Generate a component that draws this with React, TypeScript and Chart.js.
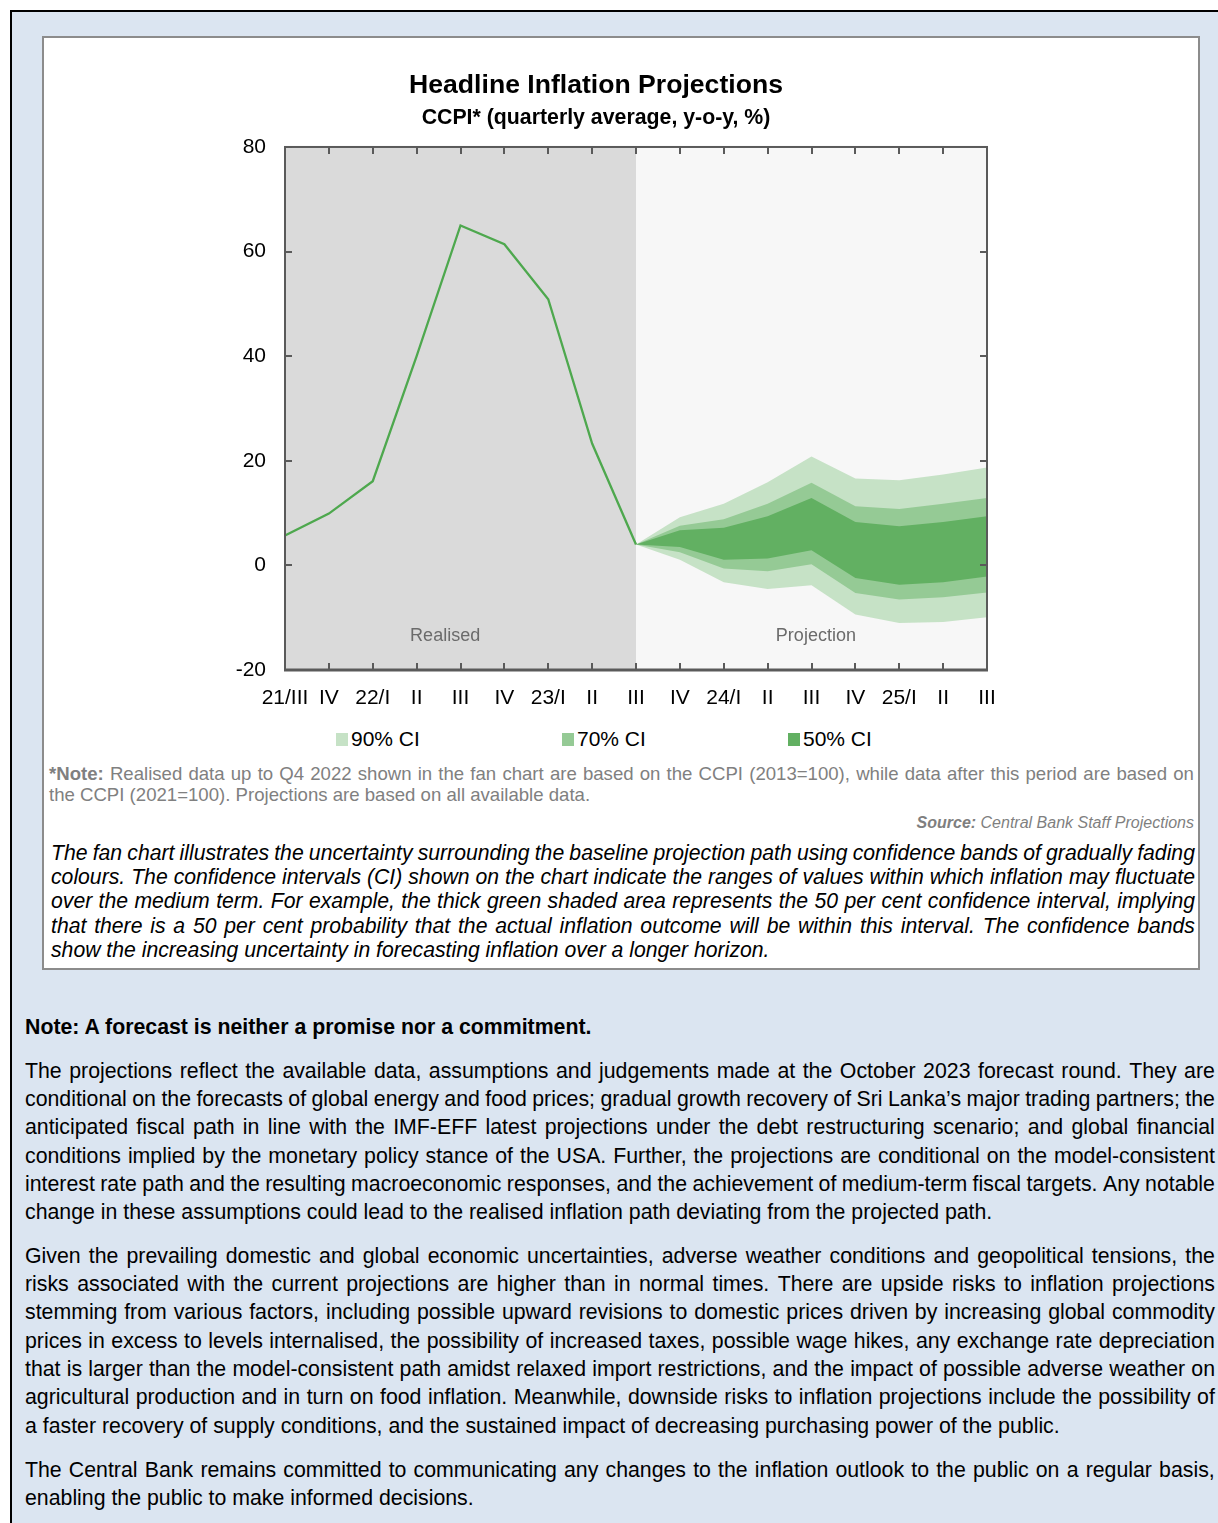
import React, { useEffect, useRef } from 'react';
import { Chart, registerables } from 'chart.js';

Chart.register(...registerables);

// ---------- data ----------
const categories = ['21/III', 'IV', '22/I', 'II', 'III', 'IV', '23/I', 'II', 'III', 'IV', '24/I', 'II', 'III', 'IV', '25/I', 'II', 'III'];
const realised = [5.7, 9.9, 16.1, 40.0, 65.0, 61.4, 50.9, 23.3, 4.0, null, null, null, null, null, null, null, null];
const ci90Upper = [null, null, null, null, null, null, null, null, 4.0, 9.2, 11.8, 15.9, 20.8, 16.6, 16.3, 17.4, 18.7];
const ci70Upper = [null, null, null, null, null, null, null, null, 4.0, 7.6, 8.8, 11.8, 15.8, 11.3, 10.8, 11.8, 12.9];
const ci50Upper = [null, null, null, null, null, null, null, null, 4.0, 6.7, 7.2, 9.4, 12.9, 8.3, 7.5, 8.3, 9.4];
const ci50Lower = [null, null, null, null, null, null, null, null, 4.0, 3.5, 1.1, 1.3, 2.9, -2.4, -3.7, -3.2, -2.1];
const ci70Lower = [null, null, null, null, null, null, null, null, 4.0, 2.5, -0.6, -1.1, 0.2, -5.3, -6.5, -6.1, -5.2];
const ci90Lower = [null, null, null, null, null, null, null, null, 4.0, 1.1, -3.2, -4.5, -3.8, -9.4, -11.0, -10.8, -9.9];
const yTicks = [-20, 0, 20, 40, 60, 80];
const splitIndex = 8; // last realised quarter (23/III)
const legendLabels = ['90% CI', '70% CI', '50% CI'];

const noteLines = [
  'Realised data up to Q4 2022 shown in the fan chart are based on the CCPI (2013=100), while data after this period are based on',
  'the CCPI (2021=100). Projections are based on all available data.',
];
const fanLines = [
  'The fan chart illustrates the uncertainty surrounding the baseline projection path using confidence bands of gradually fading',
  'colours. The confidence intervals (CI) shown on the chart indicate the ranges of values within which inflation may fluctuate',
  'over the medium term. For example, the thick green shaded area represents the 50 per cent confidence interval, implying',
  'that there is a 50 per cent probability that the actual inflation outcome will be within this interval. The confidence bands',
  'show the increasing uncertainty in forecasting inflation over a longer horizon.',
];
const para1 = [
  'The projections reflect the available data, assumptions and judgements made at the October 2023 forecast round. They are',
  'conditional on the forecasts of global energy and food prices; gradual growth recovery of Sri Lanka’s major trading partners; the',
  'anticipated fiscal path in line with the IMF-EFF latest projections under the debt restructuring scenario; and global financial',
  'conditions implied by the monetary policy stance of the USA. Further, the projections are conditional on the model-consistent',
  'interest rate path and the resulting macroeconomic responses, and the achievement of medium-term fiscal targets. Any notable',
  'change in these assumptions could lead to the realised inflation path deviating from the projected path.',
];
const para2 = [
  'Given the prevailing domestic and global economic uncertainties, adverse weather conditions and geopolitical tensions, the',
  'risks associated with the current projections are higher than in normal times. There are upside risks to inflation projections',
  'stemming from various factors, including possible upward revisions to domestic prices driven by increasing global commodity',
  'prices in excess to levels internalised, the possibility of increased taxes, possible wage hikes, any exchange rate depreciation',
  'that is larger than the model-consistent path amidst relaxed import restrictions, and the impact of possible adverse weather on',
  'agricultural production and in turn on food inflation. Meanwhile, downside risks to inflation projections include the possibility of',
  'a faster recovery of supply conditions, and the sustained impact of decreasing purchasing power of the public.',
];
const para3 = [
  'The Central Bank remains committed to communicating any changes to the inflation outlook to the public on a regular basis,',
  'enabling the public to make informed decisions.',
];

// ---------- styles ----------
const FONT = '"Liberation Sans", Arial, Helvetica, sans-serif';
const LINE = '#4ea84e';
const C90 = '#c6e2c6';
const C70 = '#95ca95';
const C50 = '#62b062';
const FRAME = '#5a5a5a';

const framePlugin = {
  id: 'framePlugin',
  beforeDraw(chart: any) {
    const { ctx, chartArea: a, scales } = chart;
    const x = scales.x;
    const split = x.getPixelForValue(splitIndex);
    ctx.save();
    ctx.fillStyle = '#dadada';
    ctx.fillRect(a.left, a.top, split - a.left, a.bottom - a.top);
    ctx.fillStyle = '#f7f7f7';
    ctx.fillRect(split, a.top, a.right - split, a.bottom - a.top);
    ctx.fillStyle = '#6b6b6b';
    ctx.font = `18px ${FONT}`;
    ctx.textAlign = 'center';
    ctx.textBaseline = 'middle';
    const yPix = scales.y.getPixelForValue(-13.6);
    ctx.fillText('Realised', x.getPixelForValue(3.65), yPix);
    ctx.fillText('Projection', x.getPixelForValue(12.1), yPix);
    ctx.restore();
  },
  afterDatasetsDraw(chart: any) {
    const { ctx, chartArea: a, scales } = chart;
    const x = scales.x;
    const y = scales.y;
    const tl = 7;
    ctx.save();
    ctx.strokeStyle = FRAME;
    ctx.lineWidth = 2;
    ctx.beginPath();
    x.ticks.forEach((_t: any, i: number) => {
      const px = Math.round(x.getPixelForTick(i));
      ctx.moveTo(px, a.bottom);
      ctx.lineTo(px, a.bottom - tl);
      ctx.moveTo(px, a.top);
      ctx.lineTo(px, a.top + tl);
    });
    y.ticks.forEach((_t: any, i: number) => {
      const py = Math.round(y.getPixelForTick(i));
      ctx.moveTo(a.left, py);
      ctx.lineTo(a.left + tl, py);
      ctx.moveTo(a.right, py);
      ctx.lineTo(a.right - tl, py);
    });
    ctx.stroke();
    ctx.lineWidth = 2;
    ctx.strokeRect(a.left, a.top, a.right - a.left, a.bottom - a.top);
    ctx.lineWidth = 3;
    ctx.beginPath();
    ctx.moveTo(a.left - 1, a.bottom);
    ctx.lineTo(a.right + 1, a.bottom);
    ctx.stroke();
    ctx.restore();
  },
};

function band(label: string, data: (number | null)[], color: string, fill: any) {
  return {
    label,
    data,
    borderWidth: 0,
    borderColor: 'rgba(0,0,0,0)',
    backgroundColor: color,
    pointRadius: 0,
    fill,
    tension: 0,
  };
}

function FanChart() {
  const ref = useRef<HTMLCanvasElement | null>(null);
  useEffect(() => {
    if (!ref.current) return;
    Chart.defaults.font.family = FONT;
    const chart = new Chart(ref.current, {
      type: 'line',
      data: {
        labels: categories,
        datasets: [
          {
            label: 'CCPI',
            data: realised,
            borderColor: LINE,
            borderWidth: 2.3,
            pointRadius: 0,
            fill: false,
            tension: 0,
          } as any,
          band('50% upper', ci50Upper, C50, '+1'),
          band('50% lower', ci50Lower, C50, false),
          band('70% upper', ci70Upper, C70, '+1'),
          band('70% lower', ci70Lower, C70, false),
          band('90% upper', ci90Upper, C90, '+1'),
          band('90% lower', ci90Lower, C90, false),
        ],
      },
      options: {
        animation: false,
        responsive: true,
        maintainAspectRatio: false,
        layout: { padding: { left: 161, right: 211, top: 0, bottom: 8 } },
        plugins: {
          legend: { display: false },
          tooltip: { enabled: false },
          title: {
            display: true,
            text: 'Headline Inflation Projections',
            color: '#000',
            font: { size: 26.6, weight: 'bold', family: FONT },
            padding: { top: 32, bottom: 3 },
          },
          subtitle: {
            display: true,
            text: 'CCPI* (quarterly average, y-o-y, %)',
            color: '#000',
            font: { size: 21.3, weight: 'bold', family: FONT },
            padding: { top: 0, bottom: 16.5 },
          },
        },
        scales: {
          x: {
            type: 'category',
            offset: false,
            grid: { display: false, drawTicks: false },
            border: { display: false },
            ticks: {
              color: '#000',
              font: { size: 21, family: FONT },
              padding: 16,
              maxRotation: 0,
              autoSkip: false,
            },
            afterFit: (s: any) => { s.height = 40; },
          },
          y: {
            min: -20,
            max: 80,
            grid: { display: false, drawTicks: false },
            border: { display: false },
            afterBuildTicks: (s: any) => { s.ticks = yTicks.map((v) => ({ value: v })); },
            ticks: {
              color: '#000',
              font: { size: 21, family: FONT },
              padding: 19,
            },
            afterFit: (s: any) => { s.width = 80; },
          },
        },
      } as any,
      plugins: [framePlugin],
    });
    return () => chart.destroy();
  }, []);
  return (
    <div style={{ position: 'relative', width: 1154, height: 680 }}>
      <canvas ref={ref} />
    </div>
  );
}

// A justified line: words spread with flex so the line never wraps.
function JLine({ text, last, prefix }: { text: string; last?: boolean; prefix?: any }) {
  if (last) {
    return (
      <div style={{ whiteSpace: 'nowrap' }}>
        {prefix ? <>{prefix} </> : null}
        {text}
      </div>
    );
  }
  const words = text.split(' ');
  return (
    <div style={{ display: 'flex', justifyContent: 'space-between', whiteSpace: 'nowrap' }}>
      {prefix ? <span>{prefix}</span> : null}
      {words.map((w, i) => (
        <span key={i}>{w}</span>
      ))}
    </div>
  );
}

function Para({ lines, style }: { lines: string[]; style?: any }) {
  return (
    <div style={style}>
      {lines.map((l, i) => (
        <JLine key={i} text={l} last={i === lines.length - 1} />
      ))}
    </div>
  );
}

export default function App() {
  const legendColors = [C90, C70, C50];
  const legendX = [292, 518, 744];
  return (
    <div
      style={{
        position: 'absolute',
        left: 10,
        top: 10,
        right: 0,
        height: 1513,
        boxSizing: 'border-box',
        background: '#dbe5f1',
        borderTop: '2px solid #000',
        borderLeft: '2px solid #000',
        fontFamily: FONT,
        overflow: 'hidden',
        color: '#000',
      }}
    >
      <div
        style={{
          marginLeft: 30,
          marginTop: 24,
          width: 1158,
          height: 934,
          boxSizing: 'border-box',
          border: '2px solid #8c8c8c',
          background: '#fff',
        }}
      >
        <FanChart />
        <div style={{ position: 'relative', height: 42 }}>
          {legendLabels.map((lab, i) => (
            <div
              key={lab}
              style={{
                position: 'absolute',
                left: legendX[i],
                top: 0,
                height: 42,
                display: 'flex',
                alignItems: 'center',
                fontSize: 21,
                lineHeight: '24px',
              }}
            >
              <span style={{ display: 'inline-block', width: 12, height: 13, background: legendColors[i], marginRight: 3 }} />
              <span>{lab}</span>
            </div>
          ))}
        </div>
        <div style={{ marginTop: 2.5, paddingLeft: 5, paddingRight: 4, fontSize: 18.6, lineHeight: '21px', color: '#808080' }}>
          <JLine text={noteLines[0]} prefix={<b>*Note:</b>} />
          <JLine text={noteLines[1]} last />
        </div>
        <div style={{ marginTop: 8, paddingRight: 4, textAlign: 'right', fontSize: 16, lineHeight: '19px', color: '#7f7f7f', fontStyle: 'italic' }}>
          <b>Source:</b> Central Bank Staff Projections
        </div>
        <Para
          lines={fanLines}
          style={{ marginTop: 9.3, paddingLeft: 7, paddingRight: 3, fontSize: 21.2, lineHeight: '24.3px', fontStyle: 'italic' }}
        />
      </div>
      <div style={{ paddingLeft: 13, paddingRight: 3, fontSize: 21.3, lineHeight: '28.3px' }}>
        <div style={{ marginTop: 42.8, fontWeight: 'bold' }}>Note: A forecast is neither a promise nor a commitment.</div>
        <Para lines={para1} style={{ marginTop: 15.7 }} />
        <Para lines={para2} style={{ marginTop: 15.2 }} />
        <Para lines={para3} style={{ marginTop: 15.9 }} />
      </div>
    </div>
  );
}
